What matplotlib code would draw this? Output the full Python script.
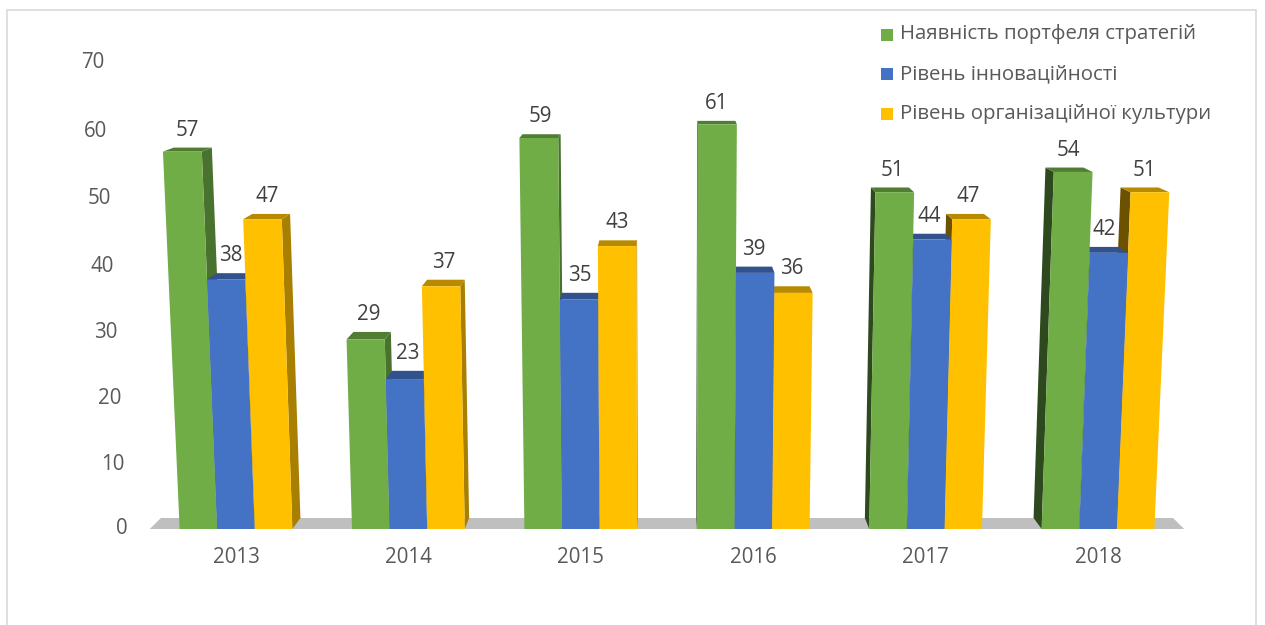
import numpy as np
import matplotlib
matplotlib.use("Agg")
import matplotlib.pyplot as plt
from matplotlib.patches import Polygon, Rectangle
from matplotlib.colors import to_rgb

# ---- data ---------------------------------------------------------------
years = ["2013", "2014", "2015", "2016", "2017", "2018"]
series_names = ["Наявність портфеля стратегій",
                "Рівень інноваційності",
                "Рівень організаційної культури"]
portfolio = [57, 29, 59, 61, 51, 54]
innovation = [38, 23, 35, 39, 44, 42]
culture = [47, 37, 43, 36, 47, 51]
y_ticks = [0, 10, 20, 30, 40, 50, 60, 70]

series = [portfolio, innovation, culture]
colors = ["#70AD47", "#4472C4", "#FFC000"]

# ---- figure / axes geometry --------------------------------------------
W, H, DPI = 1265, 625, 100
X0_PX, STEP_PX = 236.0, 172.4      # pixel x of first category, category step
Y0_PX = 529.0                      # pixel row of the value 0 (from top)
A, B = 6.45, 0.003                 # slightly perspective value scale (px)


def fwd(v):
    v = np.asarray(v, dtype=float)
    return A * v + B * v * v


def inv(p):
    p = np.asarray(p, dtype=float)
    return (-A + np.sqrt(np.maximum(A * A + 4 * B * p, 0))) / (2 * B)


fig = plt.figure(figsize=(W / DPI, H / DPI), dpi=DPI)
fig.patch.set_facecolor("white")
ax = fig.add_axes([0, 0, 1, 1])
ax.set_yscale("function", functions=(fwd, inv))
ax.set_xlim((0 - X0_PX) / STEP_PX, (W - X0_PX) / STEP_PX)
ax.set_ylim(float(inv(Y0_PX - H)), float(inv(Y0_PX)))
ax.axis("off")

FONT = ["Open Sans", "DejaVu Sans"]
TXT = "#595959"
FS = 14.8

# ---- pseudo 3-D projection helpers -------------------------------------
bar_w = 0.218
cx = 2.5            # horizontal vanishing centre (category units)
lean = 6.0e-4       # outward lean of vertical edges
kx, ky = 0.0215, 0.0185
vp_px = Y0_PX + 66  # vertical vanishing point in value-pixel space


def front(x, v):
    return (x + (x - cx) * v * lean, v)


def back(pt):
    x, v = pt
    p = float(fwd(v))
    p_b = p + ky * (vp_px - p)
    return (x + kx * (cx - x), float(inv(p_b)))


def shade(c, f):
    r, g, b = to_rgb(c)
    return (r * f, g * f, b * f)


# ---- floor -------------------------------------------------------------
x_lo, x_hi = -0.5, 5.5
floor = [front(x_lo, 0), front(x_hi, 0), back(front(x_hi, 0)), back(front(x_lo, 0))]
ax.add_patch(Polygon(floor, closed=True, facecolor="#BFBFBF", edgecolor="none", zorder=1))

# ---- bars --------------------------------------------------------------
z = 2
labels = []
for i in range(len(years)):
    order = [0, 1, 2] if i < cx else [2, 1, 0]
    for j in order:
        v = series[j][i]
        xc = i + (j - 1) * bar_w
        xl, xr = xc - bar_w / 2, xc + bar_w / 2
        col = colors[j]
        # side face
        if xr <= cx:
            e = xr
            side_col = shade(col, 0.66)
        elif xl >= cx:
            e = xl
            side_col = shade(col, 0.42)
        else:
            e = None
        if e is not None:
            pts = [front(e, 0), front(e, v), back(front(e, v)), back(front(e, 0))]
            ax.add_patch(Polygon(pts, closed=True, facecolor=side_col,
                                 edgecolor="none", zorder=z))
            z += 1
        # top face
        tl, tr = front(xl, v), front(xr, v)
        top = [tl, tr, back(tr), back(tl)]
        ax.add_patch(Polygon(top, closed=True, facecolor=shade(col, 0.72),
                             edgecolor="none", zorder=z))
        z += 1
        # front face
        fr = [front(xl, 0), front(xr, 0), tr, tl]
        ax.add_patch(Polygon(fr, closed=True, facecolor=col,
                             edgecolor="none", zorder=z))
        z += 1
        lx = np.mean([p[0] for p in top])
        ly = back(tl)[1]
        labels.append((lx, ly, v))

for lx, ly, v in labels:
    ax.annotate(f"{v}", (lx, ly), xytext=(0, 12.5), textcoords="offset points",
                ha="center", va="center", fontsize=FS, color="#404040",
                family=FONT, zorder=500)

# ---- value axis labels (perspective placement) -------------------------
for t in y_ticks:
    right_px = 104 + (70 - t) * 0.343
    ax.text((right_px - X0_PX) / STEP_PX, t, str(t), ha="right", va="center",
            fontsize=FS, color=TXT, family=FONT)

# ---- category labels ---------------------------------------------------
y_cat = float(inv(Y0_PX - 558))
for i, yr in enumerate(years):
    ax.text(i, y_cat, yr, ha="center", va="center", fontsize=FS,
            color=TXT, family=FONT)

# ---- legend -------------------------------------------------------------
leg_rows_px = [34.5, 74.0, 113.5]
for name, col, ry in zip(series_names, colors, leg_rows_px):
    fig.patches.append(Rectangle((881 / W, 1 - (ry + 6) / H), 12 / W, 12 / H,
                                 transform=fig.transFigure, facecolor=col,
                                 edgecolor="none"))
    fig.text(900.5 / W, 1 - ry / H, name, ha="left", va="center",
             fontsize=14.7, color=TXT, family=FONT)

# ---- chart frame ---------------------------------------------------------
fig.patches.append(Rectangle((7 / W, -0.02), (1256 - 7) / W, 1 - 10 / H + 0.02,
                             transform=fig.transFigure, facecolor="none",
                             edgecolor="#D9D9D9", linewidth=1.2))

fig.savefig("out.png", dpi=DPI, facecolor="white")
